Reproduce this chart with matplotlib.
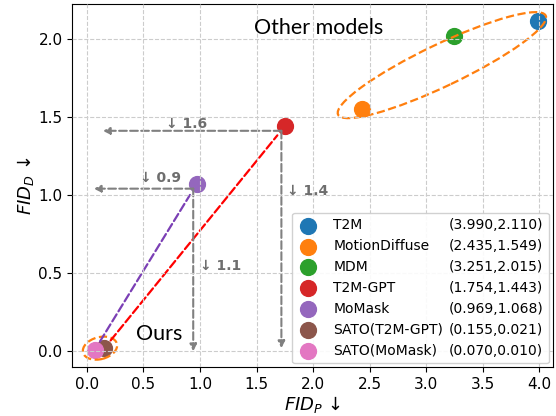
import matplotlib.pyplot as plt
from matplotlib.patches import Ellipse
from matplotlib.lines import Line2D
from matplotlib.transforms import ScaledTranslation

models = ['T2M', 'MotionDiffuse', 'MDM', 'T2M-GPT', 'MoMask', 'SATO(T2M-GPT)', 'SATO(MoMask)']
fid_p = [3.990, 2.435, 3.251, 1.754, 0.969, 0.155, 0.070]
fid_d = [2.110, 1.549, 2.015, 1.443, 1.068, 0.021, 0.010]
colors = ['#1f77b4', '#ff7f0e', '#2ca02c', '#d62728', '#9467bd', '#8c564b', '#e377c2']

# improvement arrows: (start x, start y, end x, end y, label, label x, label y)
gains = [
    (1.72, 1.41, 0.14, 1.41, '↓ 1.6', 0.70, 1.43),
    (1.72, 1.41, 1.72, 0.02, '↓ 1.4', 1.77, 1.00),
    (0.94, 1.04, 0.06, 1.04, '↓ 0.9', 0.47, 1.08),
    (0.94, 1.04, 0.94, 0.00, '↓ 1.1', 1.00, 0.52),
]

fig, ax = plt.subplots(figsize=(5.56, 4.16), dpi=100)
fig.subplots_adjust(left=0.13, right=0.994, top=0.99, bottom=0.118)

for x, y, c, m in zip(fid_p, fid_d, colors, models):
    ax.scatter(x, y, s=130, color=c, label=m, zorder=1)

ax.grid(True, linestyle='--', color='#cccccc', linewidth=0.8)
ax.set_axisbelow(False)
for gl in ax.get_xgridlines() + ax.get_ygridlines():
    gl.set_zorder(1.5)

# dashed links from SATO to base model
for i, j, c in [(6, 4, '#7b3fb5'), (5, 3, 'red')]:
    ax.annotate('', xy=(fid_p[j], fid_d[j]), xytext=(fid_p[i], fid_d[i]),
                arrowprops=dict(arrowstyle='-', linestyle='--', color=c, lw=1.6,
                                shrinkA=7, shrinkB=9), zorder=2)

for x0, y0, x1, y1, lab, tx, ty in gains:
    ax.annotate('', xy=(x1, y1), xytext=(x0, y0),
                arrowprops=dict(arrowstyle='-|>', linestyle='--', color='gray', lw=1.5,
                                mutation_scale=10, shrinkA=0, shrinkB=0), zorder=2)
    ax.text(tx, ty, lab, color='#6e6e6e', fontsize=10, fontweight='bold')

# group outlines
tr = fig.dpi_scale_trans + ScaledTranslation(3.14, 1.83, ax.transData)
ax.add_patch(Ellipse((0, 0), 2.30, 0.42, angle=25.5, transform=tr, fill=False,
                     edgecolor='#ff7f0e', linestyle='--', lw=1.6))
tr2 = fig.dpi_scale_trans + ScaledTranslation(0.115, 0.02, ax.transData)
ax.add_patch(Ellipse((0, 0), 0.35, 0.22, angle=15, transform=tr2, fill=False,
                     edgecolor='#ff7f0e', linestyle='--', lw=1.6))

ax.text(1.48, 2.07, 'Other models', fontsize=15.5, family='Lato', va='center')
ax.text(0.43, 0.11, 'Ours', fontsize=15.5, family='Lato', va='center')

ax.set_xlim(-0.13, 4.12)
ax.set_ylim(-0.1, 2.22)
ax.set_xticks([0, 0.5, 1, 1.5, 2, 2.5, 3, 3.5, 4])
ax.set_yticks([0, 0.5, 1, 1.5, 2])
ax.tick_params(labelsize=11)
ax.set_xlabel(r'$FID_P$ ↓', fontsize=13, labelpad=2)
ax.set_ylabel(r'$FID_D$ ↓', fontsize=13, labelpad=2)

handles, labels = ax.get_legend_handles_labels()
blank = [Line2D([], [], linestyle='none') for _ in models]
values = ['({:.3f},{:.3f})'.format(x, y) for x, y in zip(fid_p, fid_d)]
ax.legend(handles + blank, labels + values, ncol=2, loc='lower right', fontsize=10,
          columnspacing=-2.2, handlelength=1.6, handletextpad=1.0, labelspacing=0.5,
          borderaxespad=0.25, framealpha=0.9)

plt.savefig('out.png', dpi=100)
